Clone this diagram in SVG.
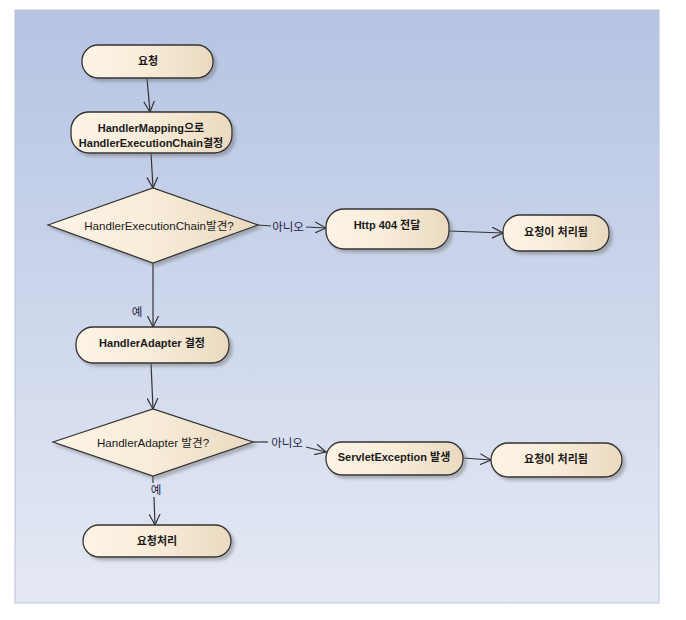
<svg xmlns="http://www.w3.org/2000/svg" width="686" height="620" viewBox="0 0 686 620">
<defs>
<linearGradient id="bg" x1="0" y1="0" x2="0" y2="1">
<stop offset="0" stop-color="#b5c4e3"/>
<stop offset="1" stop-color="#e5e9f4"/>
</linearGradient>
<linearGradient id="nf" x1="0" y1="0" x2="1" y2="0">
<stop offset="0" stop-color="#fdf4e6"/>
<stop offset="0.5" stop-color="#f8ecd9"/>
<stop offset="1" stop-color="#ead9bf"/>
</linearGradient>
<filter id="sh" x="-10%" y="-20%" width="130%" height="150%">
<feDropShadow dx="3" dy="3" stdDeviation="1.5" flood-color="#707070" flood-opacity="0.45"/>
</filter>
<marker id="arr" viewBox="0 0 12 12" refX="11" refY="6" markerWidth="12" markerHeight="12" markerUnits="userSpaceOnUse" orient="auto">
<path d="M0,0.5 L11,6 L0,11.5" fill="none" stroke="#333" stroke-width="1.2"/>
</marker>
</defs>
<style>
.node{fill:url(#nf);stroke:#333;stroke-width:1.3;filter:url(#sh)}
.t{font-family:"Liberation Sans","Noto Sans CJK KR",sans-serif;font-size:11px;font-weight:bold;fill:#1a1a1a;text-anchor:middle;dominant-baseline:central}
.d{font-family:"Liberation Sans","Noto Sans CJK KR",sans-serif;font-size:11.6px;fill:#1a1a1a;text-anchor:middle;dominant-baseline:central}
.lb{font-family:"Liberation Sans","Noto Sans CJK KR",sans-serif;font-size:11.5px;fill:#222244;text-anchor:middle;dominant-baseline:central}
.c{fill:none;stroke:#333;stroke-width:1.2}
</style>
<rect x="15" y="10" width="644" height="593" fill="url(#bg)" stroke="#b9c2d6" stroke-width="1"/>
<g id="connectors">
<line class="c" x1="147" y1="78" x2="150" y2="112" marker-end="url(#arr)"/>
<line class="c" x1="151" y1="153" x2="153" y2="188" marker-end="url(#arr)"/>
<line class="c" x1="153" y1="263" x2="153" y2="327" marker-end="url(#arr)"/>
<line class="c" x1="151" y1="363" x2="153" y2="409" marker-end="url(#arr)"/>
<line class="c" x1="153" y1="476" x2="153" y2="483"/>
<line class="c" x1="154" y1="497" x2="155" y2="525" marker-end="url(#arr)"/>
<line class="c" x1="258" y1="225" x2="271" y2="226"/>
<line class="c" x1="306" y1="227" x2="326" y2="228" marker-end="url(#arr)"/>
<line class="c" x1="449" y1="231" x2="503" y2="233" marker-end="url(#arr)"/>
<line class="c" x1="253" y1="442" x2="268" y2="442"/>
<line class="c" x1="306" y1="447" x2="326" y2="452" marker-end="url(#arr)"/>
<line class="c" x1="463" y1="458" x2="491" y2="460" marker-end="url(#arr)"/>
<text class="lb" x="288" y="227">아니오</text>
<text class="lb" x="287" y="443">아니오</text>
<text class="lb" x="137" y="312">예</text>
<text class="lb" x="156" y="490">예</text>
</g>
<g id="n1"><rect class="node" x="82" y="45" width="131" height="33" rx="16"/><text class="t" x="148" y="61">요청</text></g>
<g id="n2"><rect class="node" x="71" y="112" width="161" height="41" rx="18"/><text class="t" x="151" y="128">HandlerMapping으로</text><text class="t" x="151" y="143">HandlerExecutionChain결정</text></g>
<g id="n3"><polygon class="node" points="48,225 153,188 258,225 153,263"/><text class="d" x="159" y="225">HandlerExecutionChain발견?</text></g>
<g id="n4"><rect class="node" x="326" y="209" width="123" height="40" rx="18"/><text class="t" x="387" y="225">Http 404 전달</text></g>
<g id="n5"><rect class="node" x="503" y="215" width="106" height="36" rx="17"/><text class="t" x="556" y="232">요청이 처리됨</text></g>
<g id="n6"><rect class="node" x="76" y="327" width="153" height="36" rx="17"/><text class="t" x="152" y="343">HandlerAdapter 결정</text></g>
<g id="n7"><polygon class="node" points="53,442 153,409 253,442 153,476"/><text class="d" x="153" y="442">HandlerAdapter 발견?</text></g>
<g id="n8"><rect class="node" x="83" y="525" width="148" height="32" rx="16"/><text class="t" x="157" y="541">요청처리</text></g>
<g id="n9"><rect class="node" x="326" y="442" width="137" height="33" rx="16"/><text class="t" x="394" y="457">ServletException 발생</text></g>
<g id="n10"><rect class="node" x="491" y="443" width="131" height="34" rx="17"/><text class="t" x="556" y="459">요청이 처리됨</text></g>
</svg>
